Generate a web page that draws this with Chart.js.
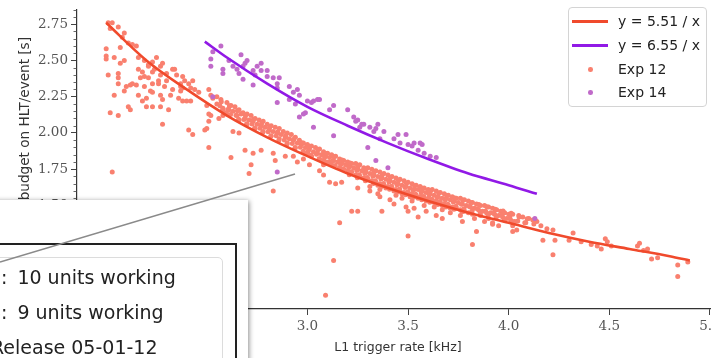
<!DOCTYPE html>
<html>
<head>
<meta charset="utf-8">
<script src="https://cdn.jsdelivr.net/npm/chart.js@4.4.1/dist/chart.umd.min.js"></script>
<style>
  html, body { margin: 0; padding: 0; width: 711px; height: 358px; overflow: hidden; background: #fff; font-family: "DejaVu Sans", sans-serif; }
  #wrap { position: absolute; left: 0; top: -2px; width: 740px; height: 362px; }
  #legend { position: absolute; left: 568px; top: 7px; width: 139px; height: 100px; box-sizing: border-box;
            border: 1px solid #d4d4d4; border-radius: 4px; background: rgba(255,255,255,0.85); }
  .row { position: absolute; left: 0; height: 20px; width: 136px; font-size: 14px; line-height: 20px; color: #222; }
  .row .txt { position: absolute; left: 49px; white-space: nowrap; }
  .row .ln { position: absolute; left: 3px; top: 9px; width: 36px; height: 2.6px; }
  .row .dot { position: absolute; left: 19px; top: 8px; width: 4.6px; height: 4.6px; border-radius: 50%; }
  #panel { position: absolute; left: -10px; top: 200px; width: 258px; height: 170px; background: #fff;
           box-shadow: 1px 1px 5px rgba(0,0,0,0.45); }
  #box { position: absolute; left: -10px; top: 243px; width: 247px; height: 130px; box-sizing: border-box; border: 2px solid #222; }
  #frame { position: absolute; left: -10px; top: 257px; width: 233px; height: 120px; box-sizing: border-box;
           border: 1px solid #dcdcdc; border-radius: 5px; }
  .iline { position: absolute; font-size: 19px; line-height: 24px; color: #222; white-space: nowrap; }
  .iline .pre { position: absolute; right: 100%; }
  .iline .rest { margin-left: 10px; }
  #connector { position: absolute; left: 0; top: 0; }
</style>
</head>
<body>
<div id="wrap"><canvas id="hltChart" width="740" height="362"></canvas></div>

<div id="legend">
  <div class="row" style="top:3px"><span class="ln" style="background:#f04a2c"></span><span class="txt">y = 5.51 / x</span></div>
  <div class="row" style="top:27px"><span class="ln" style="background:#9119e6"></span><span class="txt">y = 6.55 / x</span></div>
  <div class="row" style="top:51px"><span class="dot" style="background:#f9806f"></span><span class="txt">Exp 12</span></div>
  <div class="row" style="top:74px"><span class="dot" style="background:#c06ac9"></span><span class="txt">Exp 14</span></div>
</div>

<div id="panel"></div>
<div id="box"></div>
<div id="frame"></div>
<div class="iline" style="left:1px; top:265px"><span class="pre">Exp 12</span>:<span class="rest">10 units working</span></div>
<div class="iline" style="left:1px; top:300px"><span class="pre">Exp 14</span>:<span class="rest">9 units working</span></div>
<div class="iline" style="left:-9px; top:335px">Release 05-01-12</div>

<svg id="connector" width="711" height="358"><line x1="0" y1="262" x2="295" y2="174" stroke="#8a8a8a" stroke-width="1.6"/></svg>

<script>
// axis ticks
const xTicks = [2.0, 2.5, 3.0, 3.5, 4.0, 4.5, 5.0];
const yTicks = [1.00, 1.25, 1.50, 1.75, 2.00, 2.25, 2.50, 2.75];

// fitted curves
const fit12 = [[2.0,2.76],[2.2,2.50],[2.4,2.30],[2.6,2.12],[2.8,1.97],[3.0,1.84],[3.2,1.72],[3.4,1.62],
  [3.6,1.53],[3.8,1.45],[4.0,1.38],[4.2,1.31],[4.4,1.25],[4.6,1.20],[4.8,1.15],[4.9,1.12]];
const fit14 = [[2.49,2.63],[2.6,2.52],[2.8,2.34],[3.0,2.18],[3.2,2.05],[3.4,1.93],[3.6,1.82],
  [3.8,1.72],[4.0,1.64],[4.14,1.58]];

// Exp 12 measurements: low-rate cloud
const exp12Left = [[2.01,2.76],[2.03,2.76],[2.02,2.72],[2.06,2.73],[2.09,2.69],[2.08,2.66],[2.11,2.62],[2.13,2.61],
  [2.15,2.60],[2.07,2.59],[2.00,2.58],[2.00,2.53],[2.00,2.51],[2.04,2.52],[2.09,2.50],[2.07,2.48],[2.16,2.52],
  [2.25,2.52],[2.23,2.49],[2.21,2.46],[2.24,2.44],[2.27,2.46],[2.28,2.48],[2.23,2.42],[2.27,2.40],[2.33,2.44],
  [2.34,2.44],[2.16,2.44],[2.18,2.42],[2.19,2.39],[2.17,2.38],[2.21,2.38],[2.26,2.36],[2.30,2.36],[2.35,2.40],
  [2.38,2.39],[2.39,2.36],[2.41,2.34],[2.43,2.36],[2.37,2.34],[2.06,2.41],[2.01,2.40],[2.06,2.38],[2.06,2.34],
  [2.10,2.32],[2.13,2.34],[2.12,2.33],[2.15,2.33],[2.19,2.32],[2.23,2.34],[2.26,2.34],[2.29,2.32],[2.33,2.30],
  [2.37,2.29],[2.38,2.31],[2.42,2.31],[2.37,2.32],[2.09,2.29],[2.04,2.26],[2.16,2.26],[2.22,2.29],[2.23,2.28],
  [2.27,2.26],[2.32,2.26],[2.36,2.24],[2.38,2.22],[2.40,2.22],[2.42,2.22],[2.18,2.22],[2.28,2.23],[2.27,2.18],
  [2.31,2.16],[2.20,2.18],[2.23,2.18],[2.12,2.16],[2.11,2.18],[2.20,2.24],[2.02,2.14],[2.06,2.12],[2.28,2.06],
  [2.41,2.02],[2.43,1.99],[2.03,1.73],[2.19,2.50],[2.21,2.47],[2.30,2.41],[2.44,2.30],[2.46,2.28]];

// Exp 12: scattered points below the main band
const exp12Scatter = [[2.51,2.30],[2.52,2.26],[2.53,2.24],[2.50,2.19],[2.51,2.13],[2.51,2.08],[2.49,2.02],
  [2.52,2.12],[2.56,2.10],[2.59,2.14],[2.58,2.12],[2.63,2.01],[2.66,2.00],[2.50,2.03],[2.51,1.90],[2.62,1.83],
  [2.69,1.88],[2.73,1.86],[2.77,1.88],[2.83,1.86],[2.84,1.81],[2.72,1.78],[2.89,1.84],[2.95,1.80],[2.98,1.82],
  [3.01,1.78],[3.08,1.78],[3.11,1.80],[3.16,1.76],[3.20,1.78],[2.71,1.72],[2.83,1.60],[3.06,1.74],[3.11,1.66],
  [3.14,1.65],[3.17,1.66],[3.25,1.62],[3.22,1.46],[3.25,1.46],[3.16,1.38],[3.50,1.29],[3.13,1.12],[3.09,0.88],
  [3.08,1.71],[3.31,1.60],[3.35,1.58],[3.36,1.56],[3.41,1.54],[3.43,1.51],[3.49,1.49],[3.53,1.48],[3.55,1.42],
  [3.50,1.46],[3.59,1.46],[3.64,1.43],[3.37,1.46],[2.93,1.84]];

// Exp 12: dense band along the fit
const exp12Band = [[2.55,2.25],[2.55,2.20],[2.57,2.23],[2.58,2.17],[2.60,2.21],[2.61,2.16],[2.60,2.13],
  [2.62,2.19],[2.63,2.15],[2.64,2.18],[2.65,2.12],[2.66,2.16],[2.67,2.13],[2.66,2.09],[2.68,2.14],[2.69,2.10],
  [2.70,2.13],[2.71,2.09],[2.70,2.06],[2.72,2.12],[2.73,2.08],[2.74,2.10],[2.75,2.06],[2.74,2.03],[2.76,2.09],
  [2.77,2.05],[2.78,2.08],[2.79,2.04],[2.78,2.01],[2.80,2.06],[2.81,2.02],[2.82,2.05],[2.83,2.01],[2.82,1.98],
  [2.84,2.04],[2.85,2.00],[2.86,2.03],[2.87,1.99],[2.86,1.96],[2.88,2.01],[2.89,1.97],[2.90,2.00],[2.91,1.96],
  [2.90,1.93],[2.92,1.99],[2.93,1.95],[2.94,1.97],[2.95,1.93],[2.94,1.90],[2.96,1.95],[2.97,1.92],[2.98,1.93],
  [2.99,1.90],[2.98,1.87],[3.00,1.92],[3.01,1.89],[3.00,1.86],[3.02,1.91],[3.03,1.87],[3.02,1.84],[3.04,1.90],
  [3.05,1.86],[3.06,1.89],[3.07,1.85],[3.06,1.82],[3.08,1.87],[3.09,1.84],[3.08,1.81],[3.10,1.86],[3.11,1.83],
  [3.10,1.79],[3.12,1.85],[3.13,1.81],[3.12,1.78],[3.14,1.84],[3.15,1.80],[3.16,1.82],[3.17,1.79],[3.16,1.76],
  [3.18,1.81],[3.19,1.78],[3.18,1.75],[3.20,1.80],[3.21,1.77],[3.20,1.74],[3.22,1.79],[3.23,1.76],[3.22,1.73],
  [3.24,1.79],[3.25,1.75],[3.24,1.71],[3.26,1.78],[3.27,1.74],[3.26,1.70],[3.28,1.76],[3.29,1.73],[3.28,1.69],
  [3.30,1.76],[3.31,1.72],[3.30,1.68],[3.32,1.75],[3.33,1.71],[3.32,1.67],[3.34,1.74],[3.35,1.70],[3.34,1.66],
  [3.35,1.64],[3.36,1.73],[3.37,1.69],[3.36,1.65],[3.38,1.72],[3.39,1.68],[3.38,1.64],[3.39,1.62],[3.40,1.71],
  [3.41,1.67],[3.40,1.63],[3.42,1.70],[3.43,1.66],[3.42,1.62],[3.43,1.60],[3.44,1.69],[3.45,1.65],[3.44,1.61],
  [3.46,1.68],[3.47,1.64],[3.46,1.60],[3.47,1.58],[3.48,1.67],[3.49,1.63],[3.48,1.59],[3.50,1.66],[3.51,1.62],
  [3.50,1.59],[3.51,1.56],[3.52,1.65],[3.53,1.61],[3.52,1.58],[3.54,1.64],[3.55,1.61],[3.54,1.57],[3.55,1.55],
  [3.56,1.63],[3.57,1.60],[3.56,1.56],[3.58,1.62],[3.59,1.59],[3.58,1.55],[3.59,1.53],[3.60,1.61],[3.61,1.58],
  [3.60,1.55],[3.62,1.61],[3.63,1.57],[3.62,1.54],[3.63,1.52],[3.64,1.60],[3.65,1.56],[3.64,1.53],[3.66,1.59],
  [3.67,1.55],[3.66,1.52],[3.67,1.50],[3.68,1.58],[3.69,1.55],[3.68,1.51],[3.70,1.57],[3.71,1.54],[3.70,1.50],
  [3.71,1.48],[3.72,1.56],[3.73,1.53],[3.72,1.49],[3.74,1.55],[3.75,1.52],[3.74,1.48],[3.76,1.55],[3.77,1.51],
  [3.76,1.47],[3.78,1.54],[3.79,1.50],[3.78,1.46],[3.80,1.53],[3.81,1.49],[3.80,1.45],[3.82,1.52],[3.83,1.48],
  [3.82,1.44],[3.84,1.51],[3.85,1.47],[3.86,1.50],[3.87,1.46],[3.86,1.43],[3.88,1.50],[3.89,1.45],[3.90,1.49],
  [3.91,1.45],[3.90,1.41],[3.92,1.48],[3.93,1.44],[3.94,1.47],[3.95,1.43],[3.96,1.46],[3.97,1.42],[3.98,1.45],
  [3.99,1.41],[4.00,1.44],[4.01,1.40],[4.02,1.44],[4.03,1.39],[4.05,1.43],[4.07,1.42],[4.08,1.38],[4.10,1.41],
  [4.12,1.40],[4.14,1.39]];

// Exp 12: in-between points that fill the band
const exp12BandFill = [[2.572,2.215],[2.565,2.188],[2.578,2.158],[2.612,2.187],[2.604,2.162],[2.618,2.128],
  [2.652,2.153],[2.645,2.122],[2.658,2.094],[2.692,2.118],[2.684,2.092],[2.698,2.063],[2.732,2.094],
  [2.725,2.061],[2.738,2.034],[2.772,2.064],[2.765,2.033],[2.778,2.004],[2.812,2.036],[2.805,2.008],
  [2.818,1.978],[2.852,2.007],[2.845,1.981],[2.858,1.948],[2.892,1.983],[2.885,1.952],[2.898,1.922],
  [2.932,1.957],[2.925,1.928],[2.938,1.896],[2.972,1.932],[2.965,1.901],[2.978,1.872],[3.012,1.907],
  [3.005,1.878],[3.018,1.846],[3.052,1.884],[3.045,1.853],[3.058,1.822],[3.092,1.858],[3.085,1.829],
  [3.098,1.798],[3.132,1.836],[3.125,1.806],[3.138,1.775],[3.172,1.813],[3.165,1.784],[3.178,1.753],
  [3.212,1.792],[3.205,1.762],[3.218,1.733],[3.208,1.712],[3.252,1.771],[3.245,1.741],[3.258,1.712],
  [3.248,1.691],[3.292,1.751],[3.285,1.721],[3.298,1.692],[3.288,1.671],[3.332,1.732],[3.325,1.702],
  [3.338,1.671],[3.328,1.652],[3.372,1.712],[3.365,1.682],[3.378,1.652],[3.368,1.631],[3.412,1.692],
  [3.405,1.662],[3.418,1.633],[3.408,1.612],[3.452,1.672],[3.445,1.643],[3.458,1.613],[3.448,1.592],
  [3.492,1.653],[3.485,1.624],[3.498,1.594],[3.488,1.573],[3.532,1.636],[3.525,1.606],[3.538,1.577],
  [3.528,1.557],[3.572,1.618],[3.565,1.588],[3.578,1.561],[3.568,1.539],[3.612,1.602],[3.605,1.572],
  [3.618,1.543],[3.608,1.522],[3.652,1.586],[3.645,1.556],[3.658,1.527],[3.648,1.507],[3.692,1.568],
  [3.685,1.538],[3.698,1.509],[3.688,1.489],[3.732,1.552],[3.725,1.523],[3.738,1.494],[3.728,1.473],
  [3.772,1.537],[3.765,1.508],[3.778,1.478],[3.768,1.457],[3.812,1.521],[3.805,1.492],[3.818,1.462],
  [3.852,1.506],[3.845,1.477],[3.858,1.448],[3.892,1.491],[3.885,1.462],[3.898,1.433],[3.932,1.474],
  [3.925,1.447],[3.938,1.418],[3.972,1.461],[3.965,1.432],[3.978,1.402],[4.012,1.446],[4.005,1.418],
  [4.018,1.389],[4.052,1.421],[4.045,1.392],[4.092,1.408],[4.085,1.381],[4.132,1.398],[4.125,1.372]];

// Exp 12: points just under the fit in the busy region
const exp12BandLow = [[3.31,1.63],[3.36,1.61],[3.44,1.57],[3.47,1.55],[3.52,1.53],[3.58,1.50],[3.63,1.49],
  [3.67,1.47],[3.71,1.45],[3.76,1.43],[3.83,1.41],[3.88,1.39],[3.92,1.37],[3.95,1.36],[4.04,1.33]];

// Exp 12: high-rate tail
const exp12Right = [[3.67,1.41],[3.77,1.39],[3.84,1.32],[3.92,1.38],[4.02,1.32],[4.02,1.36],[4.16,1.36],
  [4.19,1.34],[4.22,1.33],[3.82,1.23],[4.17,1.26],[4.23,1.26],[4.30,1.26],[4.32,1.31],[4.36,1.25],[4.41,1.23],
  [4.44,1.22],[4.46,1.20],[4.48,1.27],[4.49,1.25],[4.51,1.22],[4.65,1.24],[4.64,1.22],[4.67,1.19],[4.69,1.20],
  [4.71,1.13],[4.74,1.14],[4.84,1.09],[4.89,1.11],[4.84,1.01],[4.22,1.16]];

// Exp 14 measurements
const exp14 = [[2.57,2.60],[2.53,2.56],[2.52,2.51],[2.52,2.46],[2.61,2.50],[2.58,2.44],[2.58,2.41],[2.67,2.54],
  [2.70,2.50],[2.69,2.48],[2.68,2.46],[2.65,2.44],[2.63,2.46],[2.66,2.41],[2.68,2.37],[2.73,2.33],[2.53,2.25],
  [2.73,2.43],[2.75,2.46],[2.77,2.48],[2.77,2.43],[2.74,2.40],[2.80,2.43],[2.80,2.39],[2.83,2.38],[2.85,2.34],
  [2.86,2.38],[2.85,2.31],[2.91,2.32],[2.93,2.28],[2.91,2.23],[2.95,2.30],[2.96,2.26],[2.94,2.20],[2.85,2.21],
  [3.00,2.22],[2.99,2.14],[3.02,2.21],[3.05,2.23],[2.96,2.11],[3.03,2.04],[3.13,2.19],[3.11,2.16],[3.20,2.16],
  [3.23,2.11],[3.25,2.09],[3.24,2.08],[3.26,2.04],[3.28,2.06],[3.31,2.04],[3.34,2.03],[3.35,2.06],[3.13,1.98],
  [3.30,1.90],[3.34,1.81],[3.03,2.22],[3.06,2.23],[2.98,2.13],[3.27,2.06],[3.33,2.01],[3.38,2.01],[3.36,1.96],
  [3.43,1.96],[3.45,1.99],[3.49,1.99],[3.46,1.93],[3.50,1.92],[3.52,1.91],[3.53,1.93],[3.55,1.88],[3.58,1.86],
  [3.64,1.83],[3.40,1.76],[3.56,1.93],[3.57,1.92],[3.61,1.84],[2.85,1.73],[4.13,1.41]];

const toXY = (pts) => pts.map(([x, y]) => ({ x: x, y: y }));
const exp12 = [].concat(exp12Left, exp12Scatter, exp12Band, exp12BandFill, exp12BandLow, exp12Right);

// minor ticks on the left spine plus the (partly hidden) y title
const extrasPlugin = {
  id: "extras",
  afterDraw(chart) {
    const ctx = chart.ctx;
    const y = chart.scales.y;
    const left = chart.chartArea.left;
    ctx.save();
    ctx.strokeStyle = "#444";
    ctx.lineWidth = 0.8;
    for (let i = 16; i <= 57; i++) {
      if (i % 5 === 0) continue;
      const py = Math.round(y.getPixelForValue(i * 0.05)) + 0.5;
      ctx.beginPath();
      ctx.moveTo(left - 3.5, py);
      ctx.lineTo(left, py);
      ctx.stroke();
    }
    ctx.translate(25, 39);
    ctx.rotate(-Math.PI / 2);
    ctx.textAlign = "right";
    ctx.textBaseline = "middle";
    ctx.font = '13.6px "DejaVu Sans"';
    ctx.fillStyle = "#333";
    ctx.fillText("CPU time budget on HLT/event [s]", 0, 0);
    ctx.restore();
  },
};

const ctx = document.getElementById("hltChart").getContext("2d");
new Chart(ctx, {
  type: "scatter",
  data: {
    datasets: [
      {
        label: "y = 5.51 / x",
        data: toXY(fit12),
        showLine: true,
        borderColor: "#f04a2c",
        borderWidth: 2.6,
        pointRadius: 0,
        cubicInterpolationMode: "monotone",
        order: 0,
      },
      {
        label: "y = 6.55 / x",
        data: toXY(fit14),
        showLine: true,
        borderColor: "#9119e6",
        borderWidth: 2.6,
        pointRadius: 0,
        cubicInterpolationMode: "monotone",
        order: 0,
      },
      {
        label: "Exp 12",
        data: toXY(exp12),
        backgroundColor: "#f9806f",
        pointRadius: 2.5,
        pointBorderWidth: 0,
        order: 2,
      },
      {
        label: "Exp 14",
        data: toXY(exp14),
        backgroundColor: "#c06ac9",
        pointRadius: 2.5,
        pointBorderWidth: 0,
        order: 1,
      },
    ],
  },
  options: {
    responsive: false,
    animation: false,
    layout: { autoPadding: false, padding: { left: 0, right: 21, top: 0, bottom: 0 } },
    plugins: {
      legend: { display: false },
      tooltip: { enabled: false },
    },
    scales: {
      x: {
        type: "linear",
        min: 1.855,
        max: 5.045,
        afterBuildTicks: (s) => { s.ticks = xTicks.map((v) => ({ value: v })); },
        afterFit: (s) => { s.height = 51; },
        ticks: {
          callback: (v) => Number(v).toFixed(1),
          font: { family: "DejaVu Serif", size: 13.5 },
          color: "#555",
          padding: 3,
          maxRotation: 0,
          autoSkip: false,
        },
        grid: { drawOnChartArea: false, drawTicks: true, tickLength: 6, color: "#444" },
        border: { color: "#333", width: 1.2 },
        title: {
          display: true,
          text: "L1 trigger rate [kHz]",
          font: { family: "DejaVu Sans", size: 12.5 },
          color: "#333",
          padding: { top: 0, bottom: 4.5 },
        },
      },
      y: {
        type: "linear",
        min: 0.786,
        max: 2.854,
        afterBuildTicks: (s) => { s.ticks = yTicks.map((v) => ({ value: v })); },
        afterFit: (s) => { s.width = 77; },
        ticks: {
          callback: (v) => Number(v).toFixed(2),
          font: { family: "DejaVu Serif", size: 13.5 },
          color: "#555",
          padding: 3,
        },
        grid: { drawOnChartArea: false, drawTicks: true, tickLength: 6, color: "#444" },
        border: { color: "#333", width: 1.2 },
      },
    },
  },
  plugins: [extrasPlugin],
});
</script>
</body>
</html>
